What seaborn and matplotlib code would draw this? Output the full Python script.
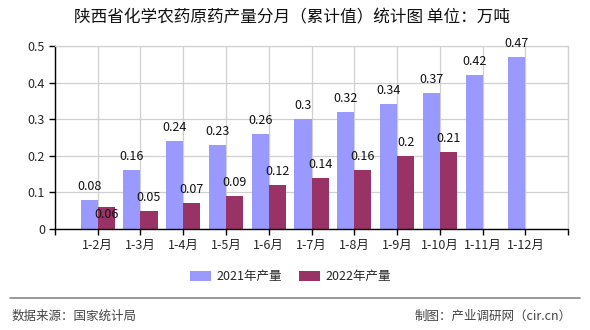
import matplotlib
matplotlib.use("Agg")
import matplotlib.pyplot as plt
import seaborn as sns
import pandas as pd
import numpy as np
from matplotlib.lines import Line2D
from matplotlib.patches import Patch

categories = ["1-2月", "1-3月", "1-4月", "1-5月", "1-6月", "1-7月", "1-8月", "1-9月", "1-10月", "1-11月", "1-12月"]
values_2021 = [0.08, 0.16, 0.24, 0.23, 0.26, 0.3, 0.32, 0.34, 0.37, 0.42, 0.47]
values_2022 = [0.06, 0.05, 0.07, 0.09, 0.12, 0.14, 0.16, 0.2, 0.21, np.nan, np.nan]
series_names = ["2021年产量", "2022年产量"]
title = "陕西省化学农药原药产量分月（累计值）统计图 单位：万吨"
yticks = [0, 0.1, 0.2, 0.3, 0.4, 0.5]
colors = ["#9999FF", "#993366"]

df = pd.DataFrame({
    "月份": categories * 2,
    "产量": values_2021 + values_2022,
    "系列": [series_names[0]] * len(categories) + [series_names[1]] * len(categories),
}).dropna()

sns.set_theme(style="white")
plt.rcParams["font.family"] = ["Noto Sans CJK SC", "DejaVu Sans"]

fig = plt.figure(figsize=(5.9, 3.3), dpi=100)
ax = fig.add_axes([0.093, 0.306, 0.870, 0.555])

sns.barplot(data=df, x="月份", y="产量", hue="系列", order=categories,
            hue_order=series_names, palette=colors, ax=ax, width=0.8,
            saturation=1, legend=False, errorbar=None, linewidth=0, edgecolor="none")

# value labels
for ci, cont in enumerate(ax.containers):
    first = True
    for bar in cont:
        if bar is None:
            continue
        h = bar.get_height()
        if h is None or np.isnan(h):
            continue
        x = bar.get_x() + bar.get_width() / 2
        dy = 7
        if ci == 1 and first:
            dy = -14
        first = False
        ax.annotate(f"{h:g}", (x, h), xytext=(0, dy), textcoords="offset pixels",
                    ha="center", va="bottom", fontsize=9, color="#111111")

ax.set_xlim(-1, len(categories))
ax.set_ylim(0, 0.5)
ax.set_yticks(yticks)
ax.set_yticklabels([f"{t:g}" for t in yticks], fontsize=9)
xt = list(range(-1, len(categories) + 1))
ax.set_xticks(xt)
ax.set_xticklabels([""] + categories + [""], fontsize=9)
ax.set_xlabel("")
ax.set_ylabel("")

ax.grid(True, color="#d0d0d0", linewidth=0.9)
ax.set_axisbelow(True)
for s in ["top", "right"]:
    ax.spines[s].set_visible(True)
    ax.spines[s].set_color("#d0d0d0")
    ax.spines[s].set_linewidth(0.9)
ax.spines["left"].set_color("black")
ax.spines["bottom"].set_color("black")
ax.spines["left"].set_linewidth(1)
ax.spines["bottom"].set_linewidth(1)
ax.tick_params(axis="both", direction="out", length=4, width=1, color="black", left=True, bottom=True, pad=3)

fig.text(0.495, 0.945, title, ha="center", va="center", fontsize=12, color="#111111")

handles = [Patch(facecolor=c, edgecolor="none") for c in colors]
fig.legend(handles, series_names, loc="center", bbox_to_anchor=(0.492, 0.161), ncol=2,
           frameon=False, fontsize=9, handlelength=1.7, handleheight=0.8, columnspacing=1.4,
           handletextpad=0.4)

fig.add_artist(Line2D([10 / 590, 580 / 590], [1 - 298 / 330] * 2, color="#888888", linewidth=1.2,
                      transform=fig.transFigure))
fig.text(12 / 590, 1 - 316 / 330, "数据来源：国家统计局", ha="left", va="center", fontsize=9, color="#444444")
fig.text(572 / 590, 1 - 316 / 330, "制图：产业调研网（cir.cn）", ha="right", va="center", fontsize=9, color="#444444")

fig.savefig("out.png", dpi=100)
